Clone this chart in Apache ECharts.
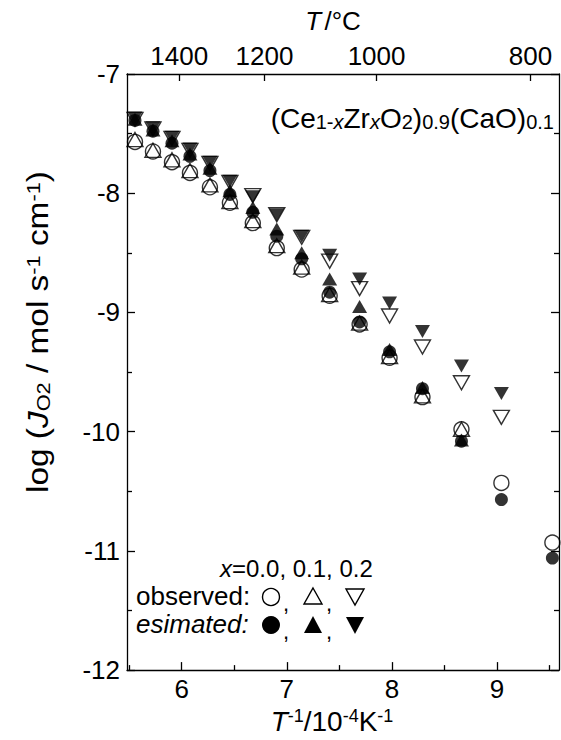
<!DOCTYPE html>
<html><head><meta charset="utf-8">
<script src="https://cdn.jsdelivr.net/npm/echarts@6/dist/echarts.min.js"></script>
<style>html,body{margin:0;padding:0;background:#fff}#c{width:561px;height:740px}</style>
</head><body><div id="c"></div>
<script>
// 1/T positions (10^-4 K^-1) of the measured temperatures
const invT = [5.556, 5.727, 5.908, 6.079, 6.269, 6.459, 6.677, 6.905, 7.142, 7.408, 7.693, 7.978, 8.291, 8.662, 9.042, 9.527];
// observed (open symbols)
const obsX00 = [-7.57, -7.65, -7.74, -7.83, -7.95, -8.08, -8.25, -8.46, -8.64, -8.86, -9.10, -9.38, -9.71, -9.98, -10.43, -10.93];
const obsX01 = [-7.55, -7.64, -7.72, -7.81, -7.93, -8.07, -8.23, -8.44, -8.62, -8.85, -9.09, -9.37, -9.70, -9.98];
const obsX02 = [-7.38, -7.46, -7.54, -7.64, -7.75, -7.91, -8.02, -8.18, -8.37, -8.57, -8.80, -9.03, -9.29, -9.59, -9.88];
// estimated (filled symbols)
const estX00 = [-7.39, -7.48, -7.58, -7.69, -7.81, -8.01, -8.16, -8.36, -8.55, -8.83, -9.08, -9.33, -9.64, -10.08, -10.57, -11.06];
const estX01 = [-7.38, -7.47, -7.56, -7.67, -7.79, -7.98, -8.12, -8.30, -8.50, -8.72, -8.95, -9.31, -9.63, -10.07];
const estX02 = [-7.37, -7.45, -7.53, -7.63, -7.74, -7.90, -8.03, -8.18, -8.36, -8.52, -8.72, -8.92, -9.16, -9.45, -9.68];
// axis ticks
const xMajorTicks = [6, 7, 8, 9];
const xMinorTicks = [5.5, 6.5, 7.5, 8.5, 9.5];
const topTempLabels = [1400, 1200, 1000, 800];

const FONT = 'Liberation Sans, Arial, Helvetica, sans-serif';
const FS = 26;
const topVals = topTempLabels.map(t => 1e4 / (t + 273.15));
const pts = vals => vals.map((v, i) => [invT[i], v]);

const chart = echarts.init(document.getElementById('c'), null, {renderer: 'svg'});
const axisLine = {show: true, lineStyle: {color: '#000', width: 1.3}};
const XMIN = 5.48, XMAX = 9.59;

const openStyle = {color: 'rgba(0,0,0,0)', borderColor: '#000', borderWidth: 1.4};
const fillStyle = {color: '#000', borderColor: '#000', borderWidth: 0};

chart.setOption({
  animation: false,
  backgroundColor: '#fff',
  textStyle: {fontFamily: FONT, color: '#000'},
  grid: {left: 127, right: 2, top: 74, bottom: 68, containLabel: false},
  xAxis: [
    {
      type: 'value', position: 'bottom', min: XMIN, max: XMAX,
      axisLine: axisLine, splitLine: {show: false},
      axisTick: {show: true, inside: true, length: 8, customValues: xMajorTicks, lineStyle: {color: '#000', width: 1.3}},
      axisLabel: {show: true, customValues: xMajorTicks, margin: 6, fontSize: FS, color: '#000', fontFamily: FONT},
      name: '{i|T}{s|-1}{n|/10}{s|-4}{n|K}{s|-1}', nameLocation: 'middle', nameGap: 36,
      nameTextStyle: {padding: [0, 22, 0, 0], rich: {
        i: {fontSize: 28, fontStyle: 'italic', fontFamily: FONT, color: '#000'},
        n: {fontSize: 28, fontFamily: FONT, color: '#000'},
        s: {fontSize: 18, fontFamily: FONT, color: '#000', verticalAlign: 'top'}
      }}
    },
    {
      type: 'value', position: 'bottom', min: XMIN, max: XMAX,
      axisLine: {show: false}, splitLine: {show: false},
      axisTick: {show: true, inside: true, length: 5, customValues: xMinorTicks, lineStyle: {color: '#000', width: 1.3}},
      axisLabel: {show: false}
    },
    {
      type: 'value', position: 'top', min: XMIN, max: XMAX,
      axisLine: axisLine, splitLine: {show: false},
      axisTick: {show: true, inside: true, length: 7, customValues: topVals, lineStyle: {color: '#000', width: 1.3}},
      axisLabel: {show: true, customValues: topVals, margin: 5, fontSize: FS, color: '#000', fontFamily: FONT,
        formatter: v => {
          let best = 0;
          topVals.forEach((tv, i) => { if (Math.abs(tv - v) < Math.abs(topVals[best] - v)) best = i; });
          return String(topTempLabels[best]);
        }},
      name: '{i|T} {n|/°C}', nameLocation: 'middle', nameGap: 40,
      nameTextStyle: {padding: [0, 20, 0, 0], rich: {
        i: {fontSize: 26, fontStyle: 'italic', fontFamily: FONT, color: '#000'},
        n: {fontSize: 26, fontFamily: FONT, color: '#000'}
      }}
    }
  ],
  yAxis: [
    {
      type: 'value', position: 'left', min: -12, max: -7, interval: 1,
      axisLine: axisLine, splitLine: {show: false},
      axisTick: {show: true, inside: true, length: 8, lineStyle: {color: '#000', width: 1.3}},
      minorTick: {show: true, splitNumber: 2, length: 5, lineStyle: {color: '#000', width: 1.3}},
      axisLabel: {show: true, margin: 7, fontSize: FS, color: '#000', fontFamily: FONT}
    },
    {
      type: 'value', position: 'right', min: -12, max: -7, interval: 1,
      axisLine: axisLine, splitLine: {show: false},
      axisTick: {show: true, inside: true, length: 8, lineStyle: {color: '#000', width: 1.3}},
      minorTick: {show: true, splitNumber: 2, length: 5, lineStyle: {color: '#000', width: 1.3}},
      axisLabel: {show: false}
    }
  ],
  series: [
    {name: 'observed x=0.0', type: 'scatter', data: pts(obsX00), symbol: 'circle', symbolSize: 15, itemStyle: openStyle, z: 2},
    {name: 'observed x=0.1', type: 'scatter', data: pts(obsX01), symbol: 'triangle', symbolSize: [16, 14], itemStyle: openStyle, z: 2},
    {name: 'observed x=0.2', type: 'scatter', data: pts(obsX02), symbol: 'triangle', symbolRotate: 180, symbolSize: [16, 14], itemStyle: openStyle, z: 2},
    {name: 'estimated x=0.0', type: 'scatter', data: pts(estX00), symbol: 'circle', symbolSize: 13, itemStyle: fillStyle, z: 3},
    {name: 'estimated x=0.1', type: 'scatter', data: pts(estX01), symbol: 'triangle', symbolSize: [15, 13], itemStyle: fillStyle, z: 3},
    {name: 'estimated x=0.2', type: 'scatter', data: pts(estX02), symbol: 'triangle', symbolRotate: 180, symbolSize: [15, 13], itemStyle: fillStyle, z: 3}
  ],
  graphic: [
    {type: 'text', x: 38, y: 332, rotation: Math.PI / 2, scaleX: 1.15, style: {
      text: '{n|log (}{i|J}{b|O2}{n| / mol s}{t|-1}{n| cm}{t|-1}{n|)}',
      align: 'center', verticalAlign: 'middle', fill: '#000',
      rich: {
        n: {fontSize: 29, fontFamily: FONT, fill: '#000'},
        i: {fontSize: 29, fontFamily: FONT, fontStyle: 'italic', fill: '#000'},
        b: {fontSize: 19, fontFamily: FONT, fill: '#000', verticalAlign: 'bottom'},
        t: {fontSize: 19, fontFamily: FONT, fill: '#000', verticalAlign: 'top'}
      }}},
    {type: 'text', x: 554, y: 118, style: {
      text: '{n|(Ce}{b|1-}{bi|x}{n|Zr}{bi|x}{n|O}{b|2}{n|)}{b|0.9}{n|(CaO)}{b|0.1}',
      align: 'right', verticalAlign: 'middle', fill: '#000',
      rich: {
        n: {fontSize: 28, fontFamily: FONT, fill: '#000'},
        b: {fontSize: 20, fontFamily: FONT, fill: '#000', verticalAlign: 'bottom'},
        bi: {fontSize: 20, fontFamily: FONT, fontStyle: 'italic', fill: '#000', verticalAlign: 'bottom'}
      }}},
    {type: 'text', x: 220, y: 568, style: {
      text: '{i|x}{n|=0.0, 0.1, 0.2}', verticalAlign: 'middle', fill: '#000',
      rich: {
        i: {fontSize: 24, fontFamily: FONT, fontStyle: 'italic', fill: '#000'},
        n: {fontSize: 24, fontFamily: FONT, fill: '#000'}
      }}},
    {type: 'text', x: 136, y: 596, style: {text: 'observed:', font: '26px ' + FONT, fill: '#000', verticalAlign: 'middle'}},
    {type: 'text', x: 136, y: 624, style: {text: 'esimated:', font: 'italic 26px ' + FONT, fill: '#000', verticalAlign: 'middle'}},
    {type: 'text', x: 283, y: 603, style: {text: ',', font: '22px ' + FONT, fill: '#000', verticalAlign: 'middle'}},
    {type: 'text', x: 326, y: 603, style: {text: ',', font: '22px ' + FONT, fill: '#000', verticalAlign: 'middle'}},
    {type: 'text', x: 283, y: 631, style: {text: ',', font: '22px ' + FONT, fill: '#000', verticalAlign: 'middle'}},
    {type: 'text', x: 326, y: 631, style: {text: ',', font: '22px ' + FONT, fill: '#000', verticalAlign: 'middle'}},
    {type: 'circle', shape: {cx: 271, cy: 597, r: 8.5}, style: {fill: 'none', stroke: '#000', lineWidth: 1.4}},
    {type: 'polygon', shape: {points: [[313, 588], [322, 604], [304, 604]]}, style: {fill: 'none', stroke: '#000', lineWidth: 1.4}},
    {type: 'polygon', shape: {points: [[346, 589], [364, 589], [355, 605]]}, style: {fill: 'none', stroke: '#000', lineWidth: 1.4}},
    {type: 'circle', shape: {cx: 271, cy: 625, r: 9}, style: {fill: '#000'}},
    {type: 'polygon', shape: {points: [[313, 616], [322, 633], [304, 633]]}, style: {fill: '#000'}},
    {type: 'polygon', shape: {points: [[346, 617], [364, 617], [355, 634]]}, style: {fill: '#000'}}
  ]
});
</script>
</body></html>
